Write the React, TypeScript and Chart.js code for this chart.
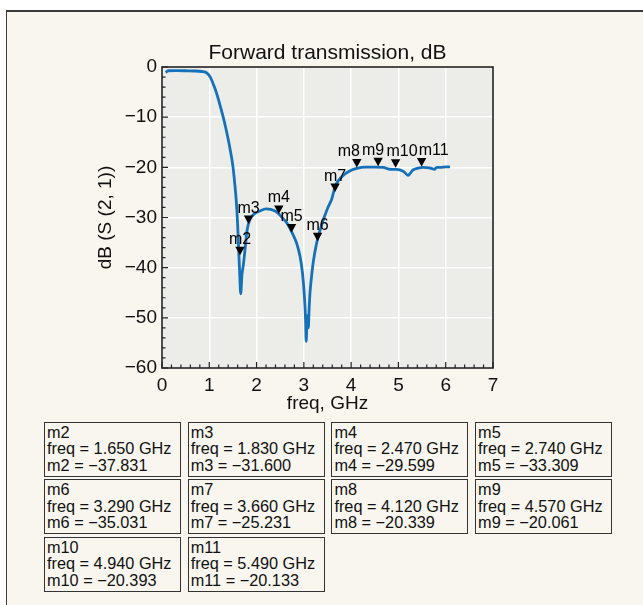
import { useEffect, useRef } from 'react';
import { Chart, registerables } from 'chart.js';

Chart.register(...registerables);

// ---- data ----
const freqGHz = [0.08, 0.13, 0.3, 0.5, 0.7, 0.85, 0.9, 0.95, 1.0, 1.05, 1.1, 1.15, 1.2, 1.25, 1.3, 1.35, 1.4, 1.45, 1.5, 1.54, 1.57, 1.6, 1.62, 1.64, 1.665, 1.69, 1.72, 1.76, 1.8, 1.86, 1.95, 2.07, 2.2, 2.3, 2.42, 2.55, 2.64, 2.75, 2.85, 2.92, 2.97, 3.01, 3.035, 3.05, 3.065, 3.08, 3.095, 3.11, 3.13, 3.16, 3.2, 3.27, 3.35, 3.41, 3.5, 3.59, 3.66, 3.75, 3.9, 4.0, 4.12, 4.3, 4.5, 4.68, 4.8, 4.92, 5.03, 5.12, 5.2, 5.25, 5.31, 5.4, 5.52, 5.65, 5.72, 5.76, 5.81, 5.9, 6.0, 6.09];
const s21dB = [-1.1, -0.75, -0.72, -0.75, -0.8, -0.9, -0.97, -1.2, -1.7, -2.6, -3.8, -5.1, -6.7, -8.4, -10.2, -12.2, -14.4, -16.9, -19.8, -23.4, -26.6, -31.5, -36.0, -40.5, -45.2, -41.5, -39.5, -36.0, -32.5, -30.4, -29.3, -28.7, -28.3, -28.4, -28.9, -30.1, -31.1, -33.0, -35.2, -37.8, -41.0, -45.5, -50.0, -54.7, -50.5, -49.5, -52.0, -48.5, -45.0, -42.0, -38.8, -35.1, -32.3, -30.5, -28.2, -26.3, -23.9, -22.4, -21.1, -20.6, -20.2, -19.95, -19.95, -20.0, -20.35, -20.4, -20.5, -20.9, -21.6, -21.2, -20.5, -20.2, -20.0, -20.1, -20.3, -20.4, -20.0, -20.0, -19.9, -19.9];

const markerNames = ['m2', 'm3', 'm4', 'm5', 'm6', 'm7', 'm8', 'm9', 'm10', 'm11'];
const markerFreqs = [1.65, 1.83, 2.47, 2.74, 3.29, 3.66, 4.12, 4.57, 4.94, 5.49];
const markerValues = [-37.831, -31.6, -29.599, -33.309, -35.031, -25.231, -20.339, -20.061, -20.393, -20.133];

const xMin = 0;
const xMax = 7;
const xStep = 1;
const xMinorStep = 0.2;
const yMin = -60;
const yMax = 0;
const yStep = 10;
const yMinorStep = 2;

const titleText = 'Forward transmission, dB';
const xTitle = 'freq, GHz';
const yTitle = 'dB (S (2, 1))';

// style only: horizontal nudge of each marker label (px) to avoid overlaps
const markerLabelNudge = [0, 0, 0, 0, 0, 0, -8, -5, 6.5, 12];

const FONT = '"Liberation Sans", Arial, Helvetica, sans-serif';
const MINUS = '\u2212';
const fmt = (v: number, d: number) => (v < 0 ? MINUS : '') + Math.abs(v).toFixed(d);

const decorPlugin = {
  id: 'decor',
  beforeDraw(chart: any) {
    const { ctx, chartArea: a } = chart;
    ctx.save();
    ctx.fillStyle = '#ecede8';
    ctx.fillRect(a.left, a.top, a.right - a.left, a.bottom - a.top);
    ctx.restore();
  },
  afterDatasetsDraw(chart: any) {
    const { ctx } = chart;
    const xs = chart.scales.x;
    const ys = chart.scales.y;
    ctx.save();
    ctx.fillStyle = '#000';
    ctx.font = `16px ${FONT}`;
    ctx.textAlign = 'center';
    ctx.textBaseline = 'alphabetic';
    for (let i = 0; i < markerNames.length; i++) {
      const px = xs.getPixelForValue(markerFreqs[i]);
      const py = ys.getPixelForValue(markerValues[i]) - 1.5;
      ctx.beginPath();
      ctx.moveTo(px, py);
      ctx.lineTo(px - 4.7, py - 8.5);
      ctx.lineTo(px + 4.7, py - 8.5);
      ctx.closePath();
      ctx.fill();
      ctx.fillText(markerNames[i], px + markerLabelNudge[i], py - 11.5);
    }
    ctx.restore();
  },
  afterDraw(chart: any) {
    const { ctx, chartArea: a } = chart;
    const xs = chart.scales.x;
    const ys = chart.scales.y;
    ctx.save();
    ctx.strokeStyle = '#222';
    ctx.lineWidth = 1.2;
    ctx.beginPath();
    const nx = Math.round((xMax - xMin) / xMinorStep);
    for (let i = 0; i <= nx; i++) {
      const v = xMin + i * xMinorStep;
      const px = xs.getPixelForValue(v);
      const len = i % Math.round(xStep / xMinorStep) === 0 ? 6 : 3.5;
      ctx.moveTo(px, a.bottom);
      ctx.lineTo(px, a.bottom - len);
    }
    const ny = Math.round((yMax - yMin) / yMinorStep);
    for (let i = 0; i <= ny; i++) {
      const v = yMin + i * yMinorStep;
      const py = ys.getPixelForValue(v);
      const len = i % Math.round(yStep / yMinorStep) === 0 ? 6 : 3.5;
      ctx.moveTo(a.left, py);
      ctx.lineTo(a.left + len, py);
    }
    ctx.stroke();
    ctx.lineWidth = 1.6;
    ctx.strokeRect(a.left, a.top, a.right - a.left, a.bottom - a.top);

    // chart title, centred over the plot area
    ctx.fillStyle = '#111';
    ctx.font = `21px ${FONT}`;
    ctx.textAlign = 'center';
    ctx.textBaseline = 'alphabetic';
    ctx.fillText(titleText, (a.left + a.right) / 2, a.top - 8.5);
    ctx.restore();
  },
};

export default function App() {
  const ref = useRef<HTMLCanvasElement | null>(null);

  useEffect(() => {
    if (!ref.current) return;
    const chart = new Chart(ref.current, {
      type: 'line',
      data: {
        datasets: [
          {
            data: freqGHz.map((f, i) => ({ x: f, y: s21dB[i] })),
            borderColor: '#1571ba',
            borderWidth: 2.8,
            pointRadius: 0,
            fill: false,
            cubicInterpolationMode: 'monotone',
          },
        ],
      },
      options: {
        animation: false,
        responsive: false,
        devicePixelRatio: 1,
        events: [],
        layout: { padding: { left: 0, right: 150, top: 67, bottom: 0 } },
        plugins: {
          legend: { display: false },
          tooltip: { enabled: false },
          title: { display: false },
        },
        scales: {
          x: {
            type: 'linear',
            min: xMin,
            max: xMax,
            afterFit: (s: any) => {
              s.height = 52;
            },
            ticks: {
              stepSize: xStep,
              color: '#111',
              padding: 6,
              font: { family: FONT, size: 19 },
              maxRotation: 0,
            },
            grid: { color: '#ffffff', lineWidth: 1.5, drawTicks: false },
            border: { display: false },
            title: {
              display: true,
              text: xTitle,
              color: '#111',
              font: { family: FONT, size: 19 },
              padding: { top: 0, bottom: 4.6 },
            },
          },
          y: {
            type: 'linear',
            min: yMin,
            max: yMax,
            afterFit: (s: any) => {
              s.width = 162;
            },
            ticks: {
              stepSize: yStep,
              color: '#111',
              padding: 5,
              font: { family: FONT, size: 19 },
              callback: (v: any) => fmt(Number(v), 0),
            },
            grid: { color: '#ffffff', lineWidth: 1.5, drawTicks: false },
            border: { display: false },
            title: {
              display: true,
              text: yTitle,
              color: '#111',
              font: { family: FONT, size: 19 },
              padding: { top: 94.6, bottom: 0 },
            },
          },
        },
      },
      plugins: [decorPlugin],
    } as any);
    return () => chart.destroy();
  }, []);

  const colW = 137;
  const colPitch = 143.7;
  const rowH = 55;
  const rowPitch = 57.5;
  const left0 = 44;
  const top0 = 421.5;

  return (
    <div style={{ position: 'absolute', left: 0, top: 0, width: 643, height: 605, overflow: 'hidden', background: '#ffffff' }}>
      <div
        style={{
          position: 'absolute',
          left: 6,
          top: 10,
          width: 700,
          height: 700,
          background: '#f8f6ee',
          borderLeft: '1.5px solid #3c3c3c',
          borderTop: '2px solid #3c3c3c',
        }}
      />
      <canvas ref={ref} width={643} height={420} style={{ position: 'absolute', left: 0, top: 0, width: 643, height: 420 }} />
      {markerNames.map((n, i) => {
        const col = i % 4;
        const row = Math.floor(i / 4);
        return (
          <div
            key={n}
            style={{
              position: 'absolute',
              left: left0 + col * colPitch,
              top: top0 + row * rowPitch,
              width: colW,
              height: rowH,
              boxSizing: 'border-box',
              border: '1.5px solid #333',
              fontFamily: FONT,
              fontSize: 16.3,
              lineHeight: '16.5px',
              color: '#111',
              paddingLeft: 2,
              paddingTop: 1,
              whiteSpace: 'nowrap',
              overflow: 'hidden',
            }}
          >
            <div>{n}</div>
            <div>{`freq = ${markerFreqs[i].toFixed(3)} GHz`}</div>
            <div>{`${n} = ${fmt(markerValues[i], 3)}`}</div>
          </div>
        );
      })}
    </div>
  );
}
